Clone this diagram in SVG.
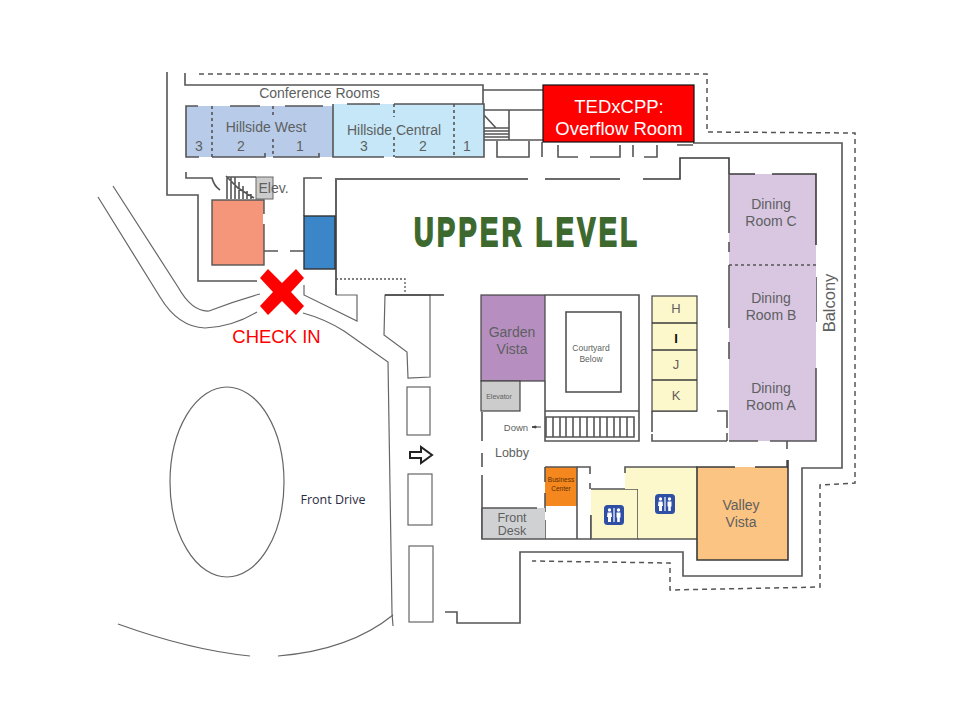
<svg xmlns="http://www.w3.org/2000/svg" width="960" height="720" viewBox="0 0 960 720">
<style>
.w{fill:none;stroke:#555;stroke-width:1.6}
.k{fill:none;stroke:#3a3a3a;stroke-width:1.6}
.r{fill:none;stroke:#666;stroke-width:1.2}
.d{fill:none;stroke:#555;stroke-width:1.5;stroke-dasharray:5 4}
.o{stroke-dasharray:3 3}
.t{font-family:"Liberation Sans",Arial,sans-serif;fill:#5e5f61;text-anchor:middle}
</style>
<defs>
<g id="wc">
<rect width="20" height="20" rx="3.500" fill="#2e4fa3"/>
<circle cx="5.500" cy="5" r="1.700" fill="#fff"/>
<path d="M3.500 7.500H7.500L8 12H7V17H4V12H3Z" fill="#fff"/>
<path d="M10 3V17" stroke="#fff" stroke-width="1.200"/>
<circle cx="14.500" cy="5" r="1.700" fill="#fff"/>
<path d="M12.500 7.500H16.500V12.500H15.800V17H13.200V12.500H12.500Z" fill="#fff"/>
</g>
</defs>
<rect width="960" height="720" fill="#fff"/>
<g id="site">
<path class="r" d="M113 186L178 287Q192 312 209 311Q235 301 260 294"/>
<path class="r" d="M98 197L160 297Q178 327 205 328Q232 327 257 312"/>
<path class="r" d="M303 313Q325 319 344 331L388 362L392 613L393 626"/>
<path class="r" d="M118 624Q190 650 250 656M278 656Q350 650 393 615"/>
<path class="r" d="M304 285V295L357 321V295H336"/>
<ellipse class="r" cx="227" cy="482" rx="57" ry="95"/>
<path class="r" d="M385 295H430V377L408 378L407 352L384 335Z"/>
<rect class="r" x="407" y="387" width="23" height="48"/>
<rect class="r" x="408" y="474" width="24" height="51"/>
<rect class="r" x="409" y="546" width="24" height="76"/>
<path d="M410 452H421V447L432 455L421 463V458H410Z" fill="#fff" stroke="#222" stroke-width="2"/>
<text x="333" y="504" font-family="Open Sans,sans-serif" font-size="12.500" fill="#2b2b44" text-anchor="middle">Front Drive</text>
</g>
<g id="walls">
<path class="w" d="M167 72V195H198V281H257"/>
<path class="w" d="M185 73V85H483V104"/>
<path class="d" d="M199 74H707V132L855 133V483L820 485V587L670 590V563L532 561"/>
<path class="w" d="M693 143H842V468H802V576H683V552H520V623H457V612H445"/>
<path class="k" d="M336 180V295M335 179H528M545 179H620M643 179H680V158H729V174"/>
<path class="w" d="M186 172V178H212Q214 186 220 190"/>
<path class="w" d="M322 178H304V216"/>
<path class="w" d="M483 90H543M483 110H543M509 110V140M484 128H509M484 131H509M484 134H509M484 137H509M484 140H543M484 115L496 128"/>
<path class="w" d="M497 141V157H529V141M542 142V157M558 145V157H578M590 157H620V145M633 145V157M644 157H657V145M677 145H693"/>
<path class="w" d="M264 251H278M290 251H304"/>
<path d="M336 279H405V294" fill="none" stroke="#555" stroke-width="1.300" stroke-dasharray="2 2"/>
<path class="k" d="M385 295H444"/>
<path class="w" d="M482 412V441M482 453V467M482 475V539"/>
<path class="w" d="M577 467H590V474M590 483V489M591 515V539"/>
<path class="w" d="M787 441V449M787 467V460M652 411V432M652 434V441H727M717 411H727V428M727 433V441M652 411H697"/>
<path class="w" d="M729 351H743"/>
<path class="w" d="M816 277V322"/>
</g>
<g id="hillside-west">
<rect x="186" y="106" width="147" height="51" fill="#b8cce9"/>
<path class="w" d="M198 106H186V157H199M230 106H260M285 106H323M212 157H265V153M273 157H319V153"/>
<path class="w o" d="M212 106V157M273 106V116M273 139V157"/>
<text class="t" x="266" y="132" font-size="14">Hillside West</text>
<text class="t" x="199" y="151" font-size="14">3</text>
<text class="t" x="241" y="151" font-size="14">2</text>
<text class="t" x="300" y="151" font-size="14">1</text>
</g>
<g id="hillside-central">
<rect x="333" y="104" width="151" height="53" fill="#c5e7f8"/>
<path class="w" d="M333 104V157H384M395 157H484V104H394M347 104H380"/>
<path class="w o" d="M394 104V117M394 137V157M454 104V157"/>
<text class="t" x="394" y="135" font-size="14">Hillside Central</text>
<text class="t" x="364" y="151" font-size="14">3</text>
<text class="t" x="423" y="151" font-size="14">2</text>
<text class="t" x="467" y="151" font-size="14">1</text>
</g>
<text class="t" x="319.500" y="98" font-size="14" id="conference-rooms">Conference Rooms</text>
<g id="overflow-room">
<rect x="543" y="85" width="151" height="57" fill="#f00" stroke="#111" stroke-width="1.200"/>
<text class="t" x="619" y="113" font-size="18.500" style="fill:#fff">TEDxCPP:</text>
<text class="t" x="619" y="135" font-size="18.500" style="fill:#fff">Overflow Room</text>
</g>
<g id="left-stairs">
<rect x="256" y="177" width="17" height="22" fill="#ccc" stroke="#666"/>
<path class="w" stroke-width="1" d="M227 177H256M227 177V199M231 177V199M235 177V199M239 182V199M243 186V199M247 191V199M251 194V199M226 176L238 188L254 198"/>
<text class="t" x="273.500" y="193" font-size="14">Elev.</text>
</g>
<g id="salmon-room"><rect x="212" y="200" width="52" height="65" fill="#f5967a" stroke="#555" stroke-width="1.400"/><rect x="263" y="214" width="3" height="10" fill="#fff"/></g>
<g id="blue-room"><rect x="304" y="216" width="31" height="53" fill="#3b86c8" stroke="#333" stroke-width="1.400"/></g>
<g id="check-in">
<path d="M260 278L268 269L282 283L296 269L304 278L291 292L304 306L296 315L282 301L268 315L260 306L273 292Z" fill="#f00"/>
<text x="276.500" y="343" font-family="Liberation Sans,sans-serif" font-size="18.500" fill="#f00" text-anchor="middle">CHECK IN</text>
</g>
<text id="title" transform="translate(414 246) scale(.68 1)" font-family="Liberation Sans,sans-serif" font-weight="700" font-size="40" letter-spacing="5" fill="#3d692f" stroke="#3d692f" stroke-width="2">UPPER LEVEL</text>
<g id="dining">
<rect x="729" y="174" width="87" height="267" fill="#d9c7e2"/>
<path class="k" d="M729 174H755M772 174H816V245"/>
<path class="w" d="M729 174V233M729 242V252M729 265V328M729 342V359M729 441H758M770 441H816V368"/>
<path class="w o" d="M729 265H816"/>
<text class="t" x="771" y="209" font-size="14">Dining</text><text class="t" x="771" y="226" font-size="14">Room C</text>
<text class="t" x="771" y="303" font-size="14">Dining</text><text class="t" x="771" y="320" font-size="14">Room B</text>
<text class="t" x="771" y="393" font-size="14">Dining</text><text class="t" x="771" y="410" font-size="14">Room A</text>
<text class="t" transform="translate(835 303) rotate(-90)" font-size="16.500">Balcony</text>
</g>
<g id="garden-vista">
<rect x="481" y="295" width="64" height="86" fill="#b68fc0" stroke="#444" stroke-width="1.200"/>
<text class="t" x="512" y="337" font-size="14">Garden</text><text class="t" x="512" y="354" font-size="14">Vista</text>
</g>
<g id="elevator">
<rect x="481" y="381" width="39" height="30" fill="#ccc" stroke="#444" stroke-width="1.200"/>
<text class="t" x="499" y="399" font-size="7">Elevator</text>
</g>
<g id="courtyard">
<path class="w" d="M545 295H639V441H545V381M545 411H639"/>
<rect class="w" x="566" y="312" width="55" height="80"/>
<path class="w" stroke-width="1" d="M546 417H634V437H546Z M553 417V437M560 417V437M566 417V437M573 417V437M580 417V437M587 417V437M594 417V437M600 417V437M607 417V437M614 417V437M620 417V437M627 417V437"/>
<text class="t" x="591" y="351" font-size="8.500">Courtyard</text><text class="t" x="591" y="362" font-size="8.500">Below</text>
<text class="t" x="516" y="431" font-size="9.500">Down</text>
<path d="M532 427H541M532 427L536 426V428Z" stroke="#444" fill="#444"/>
<text class="t" x="512" y="457" font-size="12.500">Lobby</text>
</g>
<g id="rooms-hk">
<rect x="652" y="296" width="45" height="115" fill="#fdf8cc" stroke="#444" stroke-width="1.200"/>
<path class="k" d="M652 323H697M652 350H697M652 380H697"/>
<text class="t" x="676" y="313" font-size="13">H</text>
<text class="t" x="676" y="343" font-size="13" style="fill:#111;font-weight:700">I</text>
<text class="t" x="676" y="369" font-size="13">J</text>
<text class="t" x="676" y="400" font-size="13">K</text>
</g>
<g id="business-center">
<rect x="545" y="467" width="32" height="39" fill="#f5871f"/>
<path class="w" d="M545 467H577V539M545 467V482M545 493V512M545 520V539"/>
<text x="561" y="482" font-family="Liberation Sans,sans-serif" font-size="6.500" fill="#5a3000" text-anchor="middle">Business</text>
<text x="561" y="491" font-family="Liberation Sans,sans-serif" font-size="6.500" fill="#5a3000" text-anchor="middle">Center</text>
</g>
<g id="front-desk">
<rect x="482" y="508" width="63" height="31" fill="#d0d1d3"/>
<path class="w" d="M482 508H537M482 508V539H591"/>
<text class="t" x="512" y="522" font-size="12.500">Front</text><text class="t" x="512" y="535" font-size="12.500">Desk</text>
</g>
<g id="restroom-1">
<rect x="591" y="489" width="47" height="50" fill="#fdf8cc"/>
<path class="w" d="M591 489H638V539H591V515"/>
<use href="#wc" x="604" y="505"/>
</g>
<g id="restroom-2">
<path d="M625 467H697V539H638V489H625Z" fill="#fdf8cc"/>
<path class="w" d="M625 473V467H697M638 539H697"/>
<use href="#wc" x="655" y="494"/>
</g>
<g id="valley-vista">
<rect x="697" y="467" width="91" height="93" fill="#fcc483"/>
<path class="k" d="M735 467H697V560H788V460M755 467H788"/>
<text class="t" x="741" y="510" font-size="14">Valley</text><text class="t" x="741" y="527" font-size="14">Vista</text>
</g>
</svg>
